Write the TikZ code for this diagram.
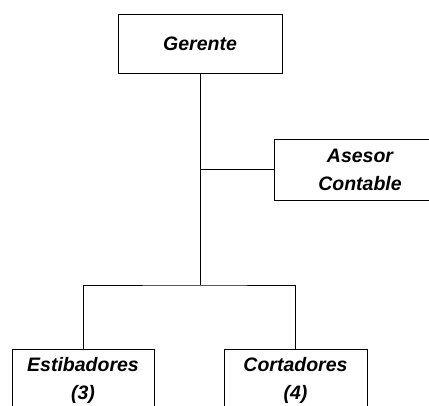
\documentclass[tikz,border=0pt]{standalone}
\usepackage{fontspec}
\setmainfont{Liberation Sans}
\begin{document}
\begin{tikzpicture}[x=1pt, y=-1pt,
    box/.style={rectangle, draw, line width=0.9pt, align=center, inner sep=0pt,
        font=\fontsize{19.5}{28}\selectfont\bfseries\itshape},
    link/.style={line width=0.9pt}]
    \useasboundingbox (0,0) rectangle (429,405);
    \clip (0,0) rectangle (429,405);

    % Draw boxes
    \node[box, minimum width=164pt, minimum height=59pt] (gerente) at (200,43.5) {Gerente};
    \node[box, minimum width=172pt, minimum height=61pt] (asesor) at (360,169.5) {Asesor\\Contable};
    \node[box, minimum width=142pt, minimum height=62pt] (estibadores) at (83,380) {Estibadores\\(3)};
    \node[box, minimum width=143pt, minimum height=62pt] (cortadores) at (295.5,380) {Cortadores\\(4)};

    % Draw lines
    \coordinate (hub) at (200,285);
    \draw[link] (gerente.south) -- (hub);
    \draw[link] (gerente.south |- asesor.west) -- (asesor.west);
    \draw[link] (estibadores.north) |- (hub) -| (cortadores.north);
\end{tikzpicture}
\end{document}
